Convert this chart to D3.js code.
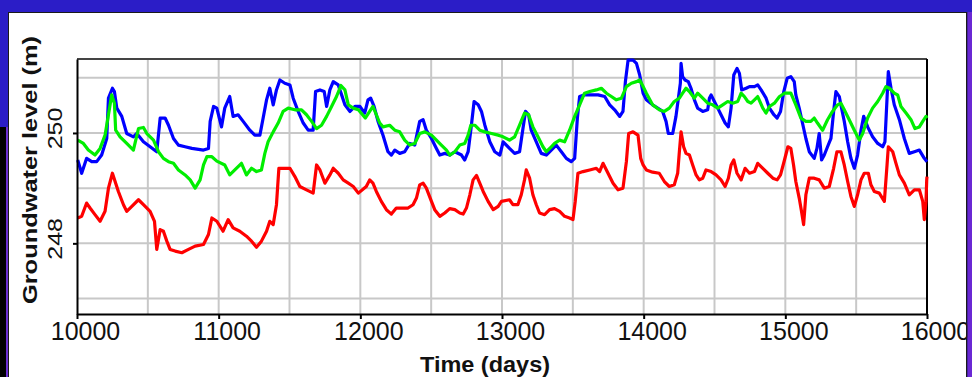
<!DOCTYPE html>
<html>
<head>
<meta charset="utf-8">
<script src="https://cdn.jsdelivr.net/npm/d3@7"></script>
<style>
  html, body { margin: 0; padding: 0; background: #2b1dc7; }
  svg { display: block; font-family: "Liberation Sans", Arial, sans-serif; }
</style>
</head>
<body>
<div id="chart"></div>
<script>
// groundwater levels: [time (days), level (m)]
const blueWell = [
  [10005, 249.51], [10033, 249.27], [10068, 249.54], [10104, 249.48], [10139, 249.48], [10174, 249.60],
  [10210, 249.90], [10222, 250.63], [10250, 250.81], [10264, 250.75], [10281, 250.45], [10316, 250.30],
  [10351, 249.99], [10398, 249.93], [10422, 249.99], [10469, 249.84], [10516, 249.75], [10563, 249.66],
  [10587, 250.27], [10622, 250.27], [10646, 250.14], [10681, 249.90], [10716, 249.78], [10763, 249.75],
  [10811, 249.72], [10893, 249.69], [10928, 249.72], [10940, 250.21], [10964, 250.48], [10987, 250.45],
  [11020, 250.11], [11043, 250.45], [11078, 250.66], [11102, 250.30], [11137, 250.33], [11173, 250.21],
  [11220, 250.05], [11255, 249.96], [11291, 249.96], [11314, 250.27], [11338, 250.60], [11361, 250.81],
  [11385, 250.51], [11408, 250.78], [11432, 250.96], [11467, 250.90], [11503, 250.87], [11526, 250.63],
  [11561, 250.39], [11597, 250.18], [11632, 250.05], [11667, 250.05], [11684, 250.75], [11715, 250.78],
  [11745, 250.75], [11762, 250.48], [11785, 250.78], [11809, 250.93], [11844, 250.87], [11868, 250.69],
  [11891, 250.51], [11927, 250.39], [11962, 250.48], [11997, 250.48], [12031, 250.36], [12054, 250.60],
  [12073, 250.63], [12097, 250.48], [12125, 250.21], [12160, 249.96], [12195, 249.66], [12219, 249.60],
  [12243, 249.69], [12278, 249.63], [12313, 249.66], [12349, 249.81], [12384, 249.78], [12419, 250.21],
  [12443, 250.24], [12466, 250.05], [12502, 249.90], [12537, 249.72], [12561, 249.60], [12596, 249.63],
  [12631, 249.60], [12667, 249.66], [12714, 249.60], [12737, 249.51], [12761, 249.66], [12784, 250.14],
  [12803, 250.57], [12832, 250.51], [12855, 250.39], [12879, 250.14], [12914, 249.84], [12949, 249.66],
  [12985, 249.60], [13008, 249.84], [13053, 249.72], [13089, 249.63], [13124, 249.66], [13148, 250.08],
  [13166, 250.39], [13188, 250.33], [13206, 250.05], [13242, 249.84], [13277, 249.63], [13313, 249.60],
  [13348, 249.69], [13383, 249.78], [13419, 249.66], [13454, 249.54], [13489, 249.48], [13513, 249.54],
  [13532, 250.27], [13548, 250.66], [13583, 250.69], [13631, 250.69], [13678, 250.69], [13725, 250.66],
  [13760, 250.51], [13795, 250.42], [13831, 250.30], [13854, 250.39], [13871, 250.93], [13890, 251.32],
  [13925, 251.32], [13949, 251.26], [13972, 251.05], [13996, 250.72], [14019, 250.60], [14063, 250.51],
  [14099, 250.45], [14134, 250.39], [14158, 250.21], [14174, 249.99], [14205, 249.99], [14228, 250.30],
  [14245, 250.63], [14259, 250.90], [14264, 251.26], [14275, 251.02], [14292, 250.96], [14315, 250.93],
  [14334, 250.81], [14358, 250.60], [14381, 250.45], [14417, 250.39], [14452, 250.42], [14464, 250.63],
  [14476, 250.69], [14499, 250.57], [14523, 250.45], [14546, 250.33], [14575, 250.18], [14598, 250.11],
  [14617, 250.45], [14636, 251.05], [14659, 251.17], [14676, 251.08], [14692, 250.78], [14723, 250.81],
  [14747, 250.84], [14782, 250.84], [14805, 250.87], [14829, 250.78], [14864, 250.63], [14888, 250.45],
  [14919, 250.33], [14942, 250.27], [14966, 250.39], [14989, 250.75], [15013, 250.99], [15039, 251.02],
  [15063, 250.93], [15074, 250.69], [15098, 250.45], [15121, 250.18], [15145, 249.90], [15169, 249.66],
  [15204, 249.54], [15223, 249.72], [15239, 249.99], [15256, 249.51], [15275, 249.60], [15298, 249.75],
  [15322, 249.90], [15341, 250.39], [15357, 250.75], [15381, 250.66], [15392, 250.51], [15416, 250.21],
  [15440, 249.84], [15463, 249.54], [15487, 249.36], [15510, 249.60], [15534, 250.05], [15553, 250.30],
  [15581, 250.11], [15616, 249.93], [15652, 249.81], [15687, 249.75], [15703, 249.84], [15718, 250.63],
  [15727, 251.11], [15746, 250.81], [15769, 250.51], [15805, 250.24], [15840, 249.90], [15875, 249.63],
  [15911, 249.66], [15946, 249.69], [15981, 249.54], [16000, 249.48]
];

const greenWell = [
  [10005, 249.87], [10045, 249.81], [10080, 249.69], [10127, 249.60], [10163, 249.72], [10198, 249.96],
  [10222, 250.33], [10245, 250.69], [10264, 250.54], [10273, 250.05], [10304, 249.93], [10351, 249.81],
  [10398, 249.69], [10434, 250.08], [10469, 250.10], [10493, 249.99], [10540, 249.87], [10575, 249.66],
  [10610, 249.54], [10646, 249.48], [10681, 249.45], [10716, 249.33], [10763, 249.24], [10799, 249.15],
  [10834, 249.00], [10869, 249.15], [10893, 249.42], [10917, 249.57], [10952, 249.57], [10987, 249.49],
  [11043, 249.42], [11078, 249.24], [11114, 249.33], [11161, 249.45], [11196, 249.24], [11232, 249.36],
  [11267, 249.30], [11302, 249.33], [11326, 249.63], [11349, 249.84], [11385, 250.02], [11420, 250.18],
  [11455, 250.39], [11491, 250.45], [11538, 250.42], [11585, 250.42], [11620, 250.33], [11656, 250.21],
  [11691, 250.08], [11726, 250.14], [11762, 250.30], [11797, 250.48], [11832, 250.66], [11863, 250.86],
  [11891, 250.78], [11915, 250.51], [11950, 250.45], [11986, 250.42], [12035, 250.27], [12066, 250.39],
  [12089, 250.48], [12113, 250.33], [12137, 250.18], [12160, 250.11], [12207, 250.14], [12243, 250.05],
  [12278, 250.02], [12313, 249.87], [12349, 249.78], [12384, 249.81], [12419, 249.99], [12455, 250.02],
  [12502, 249.96], [12537, 249.87], [12572, 249.78], [12608, 249.69], [12631, 249.60], [12667, 249.66],
  [12702, 249.78], [12737, 249.81], [12761, 249.96], [12780, 250.14], [12808, 250.14], [12843, 250.05],
  [12879, 250.02], [12926, 249.99], [12973, 249.96], [13008, 249.93], [13053, 249.87], [13089, 249.93],
  [13124, 250.14], [13159, 250.36], [13188, 250.33], [13218, 250.11], [13254, 249.93], [13289, 249.75],
  [13313, 249.66], [13348, 249.75], [13371, 249.81], [13407, 249.87], [13442, 249.84], [13477, 250.05],
  [13513, 250.30], [13548, 250.51], [13583, 250.72], [13619, 250.75], [13666, 250.78], [13701, 250.81],
  [13737, 250.72], [13772, 250.66], [13807, 250.60], [13843, 250.63], [13878, 250.84], [13913, 250.90],
  [13949, 250.93], [13972, 250.96], [13996, 250.84], [14019, 250.72], [14063, 250.51], [14110, 250.42],
  [14146, 250.39], [14181, 250.45], [14216, 250.57], [14252, 250.63], [14275, 250.72], [14299, 250.81],
  [14323, 250.75], [14358, 250.63], [14381, 250.72], [14417, 250.63], [14452, 250.54], [14487, 250.51],
  [14523, 250.45], [14558, 250.51], [14593, 250.57], [14629, 250.54], [14664, 250.57], [14688, 250.72],
  [14711, 250.66], [14735, 250.57], [14758, 250.54], [14782, 250.60], [14805, 250.66], [14841, 250.45],
  [14864, 250.36], [14888, 250.48], [14923, 250.54], [14959, 250.66], [14994, 250.72], [15039, 250.72],
  [15074, 250.51], [15110, 250.27], [15145, 250.21], [15180, 250.21], [15204, 250.27], [15227, 250.18],
  [15263, 250.05], [15298, 250.24], [15333, 250.39], [15369, 250.51], [15392, 250.54], [15416, 250.42],
  [15451, 250.24], [15487, 250.05], [15522, 249.87], [15546, 249.99], [15581, 250.27], [15616, 250.45],
  [15652, 250.57], [15687, 250.72], [15710, 250.84], [15734, 250.81], [15769, 250.72], [15793, 250.69],
  [15816, 250.48], [15852, 250.36], [15887, 250.24], [15915, 250.08], [15946, 250.11], [15970, 250.21],
  [15993, 250.30], [16000, 250.27]
];

const redWell = [
  [10005, 248.46], [10033, 248.49], [10068, 248.73], [10092, 248.64], [10127, 248.52], [10163, 248.40],
  [10198, 248.58], [10222, 249.00], [10250, 249.27], [10269, 249.12], [10292, 248.94], [10328, 248.70],
  [10351, 248.58], [10387, 248.67], [10434, 248.79], [10469, 248.70], [10516, 248.58], [10547, 248.40],
  [10563, 247.89], [10587, 248.25], [10610, 248.22], [10634, 248.04], [10657, 247.89], [10693, 247.86],
  [10740, 247.83], [10787, 247.89], [10834, 247.95], [10893, 247.98], [10928, 248.16], [10952, 248.46],
  [10987, 248.40], [11031, 248.22], [11067, 248.43], [11102, 248.28], [11149, 248.22], [11196, 248.13],
  [11232, 248.04], [11267, 247.93], [11302, 248.04], [11338, 248.22], [11361, 248.40], [11385, 248.34],
  [11408, 248.70], [11425, 249.36], [11455, 249.36], [11503, 249.36], [11538, 249.21], [11573, 249.03],
  [11620, 248.97], [11667, 248.91], [11691, 249.42], [11715, 249.33], [11750, 249.09], [11785, 249.24],
  [11809, 249.36], [11844, 249.27], [11879, 249.15], [11915, 249.09], [11950, 249.03], [11986, 248.91],
  [12042, 249.03], [12066, 249.15], [12089, 249.09], [12113, 248.94], [12148, 248.76], [12184, 248.61],
  [12219, 248.53], [12254, 248.64], [12290, 248.64], [12337, 248.64], [12372, 248.70], [12396, 248.82],
  [12419, 249.06], [12443, 249.09], [12466, 249.00], [12502, 248.76], [12525, 248.61], [12561, 248.49],
  [12596, 248.55], [12631, 248.63], [12667, 248.61], [12702, 248.55], [12726, 248.53], [12749, 248.64],
  [12773, 248.88], [12796, 249.15], [12820, 249.23], [12843, 249.09], [12867, 248.94], [12902, 248.76],
  [12938, 248.61], [12973, 248.67], [12996, 248.76], [13053, 248.79], [13077, 248.70], [13112, 248.70],
  [13136, 248.88], [13159, 249.15], [13171, 249.33], [13195, 249.18], [13218, 248.88], [13242, 248.70],
  [13265, 248.55], [13301, 248.52], [13336, 248.61], [13371, 248.63], [13407, 248.58], [13442, 248.49],
  [13477, 248.46], [13501, 248.43], [13517, 248.76], [13536, 249.27], [13572, 249.30], [13619, 249.33],
  [13666, 249.36], [13689, 249.30], [13713, 249.45], [13737, 249.33], [13760, 249.21], [13784, 249.09],
  [13819, 248.97], [13854, 249.00], [13878, 249.48], [13894, 249.99], [13925, 250.02], [13960, 249.96],
  [13979, 249.54], [13996, 249.42], [14019, 249.33], [14063, 249.29], [14110, 249.27], [14146, 249.12],
  [14181, 249.03], [14216, 249.06], [14240, 249.27], [14252, 249.66], [14264, 250.02], [14282, 249.75],
  [14299, 249.63], [14323, 249.60], [14346, 249.42], [14370, 249.24], [14393, 249.15], [14417, 249.18],
  [14440, 249.33], [14476, 249.30], [14511, 249.24], [14546, 249.15], [14575, 249.03], [14598, 249.18],
  [14617, 249.42], [14636, 249.51], [14659, 249.27], [14688, 249.15], [14716, 249.36], [14747, 249.27],
  [14782, 249.30], [14805, 249.45], [14841, 249.36], [14876, 249.27], [14912, 249.18], [14942, 249.15],
  [14966, 249.24], [14994, 249.51], [15018, 249.75], [15039, 249.72], [15058, 249.42], [15074, 249.12],
  [15098, 248.82], [15114, 248.58], [15129, 248.34], [15145, 248.88], [15169, 249.18], [15204, 249.18],
  [15239, 249.15], [15275, 249.00], [15310, 249.03], [15341, 249.36], [15364, 249.66], [15392, 249.66],
  [15416, 249.42], [15440, 249.12], [15463, 248.85], [15487, 248.67], [15510, 248.88], [15534, 249.15],
  [15557, 249.27], [15586, 249.27], [15604, 249.06], [15628, 248.94], [15663, 248.91], [15699, 248.76],
  [15718, 249.42], [15727, 249.75], [15758, 249.66], [15781, 249.45], [15805, 249.24], [15840, 249.09],
  [15875, 248.88], [15911, 248.97], [15946, 248.97], [15970, 248.76], [15981, 248.43], [15993, 248.76],
  [15998, 249.15], [16000, 249.21]
];

const xTicks = [10000, 11000, 12000, 13000, 14000, 15000, 16000];
const xGrid = [10500, 11000, 11500, 12000, 12500, 13000, 13500, 14000, 14500, 15000, 15500];
const yTicks = [248, 250];
const yGrid = [247, 248, 249, 250, 251];

const width = 972, height = 377;
const plot = {left: 77, right: 927, top: 59, bottom: 314};

const svg = d3.select("#chart").append("svg")
  .attr("width", width)
  .attr("height", height);

// white panel and the dark strips left of it
svg.append("rect").attr("x", 0).attr("y", 127).attr("width", 6).attr("height", height - 127).attr("fill", "#000");
svg.append("rect").attr("x", 6).attr("y", 127).attr("width", 2).attr("height", height - 127).attr("fill", "#6b2fd2");
svg.append("rect")
  .attr("x", 8.5).attr("y", 12.5)
  .attr("width", 958).attr("height", height)
  .attr("fill", "#fff")
  .attr("stroke", "#1a1a1a");

const x = d3.scaleLinear().domain([10000, 16000]).range([plot.left, plot.right]);
const y = d3.scaleLinear().domain([246.72, 251.34]).range([plot.bottom, plot.top]);

// grid
svg.append("g").selectAll("line").data(yGrid).enter().append("line")
  .attr("x1", plot.left).attr("x2", plot.right)
  .attr("y1", d => y(d)).attr("y2", d => y(d))
  .attr("stroke", "#c8c8c8").attr("stroke-width", 2);
svg.append("g").selectAll("line").data(xGrid).enter().append("line")
  .attr("x1", d => x(d)).attr("x2", d => x(d))
  .attr("y1", plot.top).attr("y2", plot.bottom)
  .attr("stroke", "#c8c8c8").attr("stroke-width", 2);

// top and right border
svg.append("line").attr("x1", plot.left).attr("x2", plot.right)
  .attr("y1", plot.top).attr("y2", plot.top)
  .attr("stroke", "#444").attr("stroke-width", 2);
svg.append("line").attr("x1", plot.right).attr("x2", plot.right)
  .attr("y1", plot.top).attr("y2", plot.bottom)
  .attr("stroke", "#000").attr("stroke-width", 2);

// series
const line = d3.line().x(d => x(d[0])).y(d => y(d[1]));
const series = [
  {data: redWell, color: "#ff0000"},
  {data: blueWell, color: "#0000ff"},
  {data: greenWell, color: "#00ee00"}
];
svg.append("g").selectAll("path").data(series).enter().append("path")
  .attr("d", d => line(d.data))
  .attr("fill", "none")
  .attr("stroke", d => d.color)
  .attr("stroke-width", 3.2)
  .attr("stroke-linejoin", "round");

// x axis
const xAxis = svg.append("g")
  .attr("transform", "translate(0," + plot.bottom + ")")
  .call(d3.axisBottom(x).tickValues(xTicks).tickFormat(d3.format("d")).tickSizeInner(5).tickSizeOuter(0));
xAxis.select(".domain").attr("stroke", "#000").attr("stroke-width", 2);
xAxis.selectAll(".tick line").attr("stroke", "#000").attr("stroke-width", 2);
xAxis.selectAll(".tick text")
  .attr("x", 8).attr("y", 26).attr("dy", 0)
  .attr("fill", "#111")
  .style("font-size", "25px")
  .style("font-family", "'Liberation Sans', Arial, sans-serif");

// y axis
const yAxis = svg.append("g")
  .attr("transform", "translate(" + plot.left + ",0)")
  .call(d3.axisLeft(y).tickValues(yTicks).tickFormat(d3.format("d")).tickSizeInner(4).tickSizeOuter(0));
yAxis.select(".domain").attr("stroke", "#000").attr("stroke-width", 2);
yAxis.selectAll(".tick line").attr("stroke", "#000").attr("stroke-width", 2);
yAxis.selectAll(".tick text")
  .attr("x", 0).attr("dy", 0)
  .attr("transform", "translate(-15,-5) rotate(-90) scale(1,0.8)")
  .attr("text-anchor", "middle")
  .attr("fill", "#111")
  .style("font-size", "25px")
  .style("font-family", "'Liberation Sans', Arial, sans-serif");

// axis titles
svg.append("text")
  .attr("x", 485).attr("y", 372)
  .attr("text-anchor", "middle")
  .attr("textLength", 130).attr("lengthAdjust", "spacingAndGlyphs")
  .style("font-size", "22px").style("font-weight", "bold")
  .attr("fill", "#111")
  .text("Time (days)");
svg.append("text")
  .attr("transform", "translate(37,170) rotate(-90)")
  .attr("text-anchor", "middle")
  .attr("textLength", 268).attr("lengthAdjust", "spacingAndGlyphs")
  .style("font-size", "21px").style("font-weight", "bold")
  .attr("fill", "#111")
  .text("Groundwater level (m)");

// right edge strip covers the clipped end of the last tick label
svg.append("rect").attr("x", 966).attr("y", 12).attr("width", 1.5).attr("height", height).attr("fill", "#1a1a1a");
svg.append("rect").attr("x", 967.5).attr("y", 12).attr("width", 5).attr("height", height).attr("fill", "#6a28d4");
</script>
</body>
</html>
